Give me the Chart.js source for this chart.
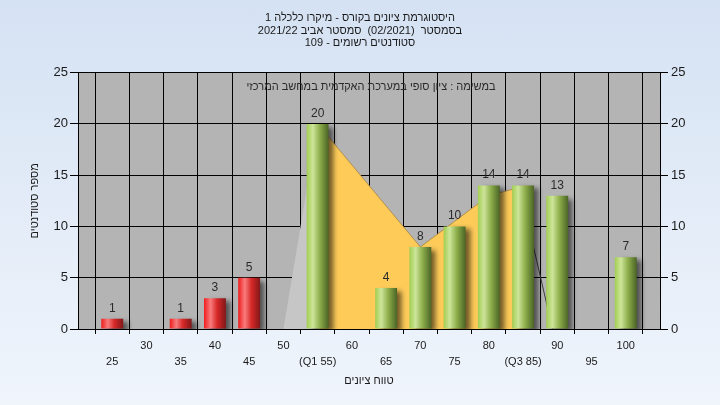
<!DOCTYPE html>
<html>
<head>
<meta charset="utf-8">
<script src="https://cdn.jsdelivr.net/npm/chart.js@4.4.1/dist/chart.umd.min.js"></script>
<style>
  html, body { margin: 0; padding: 0; }
  body { width: 720px; height: 405px; background: linear-gradient(to bottom, #D5E2F3, #F0F5FC); }
  #wrap { width: 720px; height: 405px; position: relative; }
</style>
</head>
<body>
<div id="wrap"><canvas id="c" dir="rtl" width="720" height="405"></canvas></div>
<script>
// ---- data ----
const scoreBins = [25, 30, 35, 40, 45, 50, 55, 60, 65, 70, 75, 80, 85, 90, 95, 100];
const studentCounts = [1, 0, 1, 3, 5, 0, 20, 0, 4, 8, 10, 14, 14, 13, 0, 7];
const tickLabels = ['25', '30', '35', '40', '45', '50', '(Q1 55)', '60', '65', '70', '75', '80', '(Q3 85)', '90', '95', '100'];
const leftTailX = [50, 55];
const leftTailY = [0, 20];
const midRangeX = [55, 70, 75, 80, 85];
const midRangeY = [20, 8, 10.5, 13, 13.9];
const rightTailX = [85, 89.3];
const rightTailY = [12.4, 0];
const passScore = 55;
const titleLines = ['היסטוגרמת ציונים בקורס - מיקרו כלכלה 1', 'בסמסטר  (02/2021)  סמסטר אביב 2021/22', 'סטודנטים רשומים - 109'];
const noteText = 'במשימה : ציון סופי במערכת האקדמית במחשב המרכזי';
const xTitle = 'טווח ציונים';
const yTitle = 'מספר סטודנטים';

const FONT = "'Liberation Sans', 'DejaVu Sans', Arial, sans-serif";
const toXY = (xs, ys) => xs.map((x, i) => ({ x: x, y: ys[i] }));

function barGradient(context) {
  const chart = context.chart;
  const xs = chart.scales.x;
  if (!chart.chartArea || !xs || context.raw == null) return '#cc2222';
  const pass = context.raw.x >= passScore;
  const cx = xs.getPixelForValue(context.raw.x);
  const half = (xs.getPixelForValue(5) - xs.getPixelForValue(0)) * 0.64 / 2;
  const g = chart.ctx.createLinearGradient(cx - half, 0, cx + half, 0);
  if (pass) {
    g.addColorStop(0, '#A2CE50');
    g.addColorStop(0.28, '#CDE59A');
    g.addColorStop(0.6, '#8DAE4A');
    g.addColorStop(1, '#4B6426');
  } else {
    g.addColorStop(0, '#F01C1C');
    g.addColorStop(0.3, '#F87C7C');
    g.addColorStop(0.6, '#D82828');
    g.addColorStop(1, '#801818');
  }
  return g;
}

const plotBg = {
  id: 'plotBg',
  beforeDraw(chart) {
    const { ctx, chartArea: a } = chart;
    ctx.save();
    ctx.fillStyle = '#B4B4B4';
    ctx.fillRect(a.left, a.top, a.right - a.left, a.bottom - a.top);
    ctx.restore();
  }
};

const noteLabel = {
  id: 'noteLabel',
  beforeDatasetsDraw(chart) {
    const { ctx, chartArea: a } = chart;
    ctx.save();
    ctx.font = '11px ' + FONT;
    ctx.fillStyle = '#2A2A2A';
    ctx.textAlign = 'center';
    ctx.textBaseline = 'middle';
    ctx.fillText(noteText, (a.left + a.right) / 2 + 2, a.top + 14);
    ctx.restore();
  }
};

const barShadow = {
  id: 'barShadow',
  beforeDatasetDraw(chart, args) {
    if (args.index !== 0) return;
    const c = chart.ctx;
    c.save();
    c.shadowColor = 'rgba(0,0,0,0.55)';
    c.shadowBlur = 5;
    c.shadowOffsetX = 5;
    c.shadowOffsetY = 3;
  },
  afterDatasetDraw(chart, args) {
    if (args.index !== 0) return;
    chart.ctx.restore();
  }
};

const valueLabels = {
  id: 'valueLabels',
  afterDatasetsDraw(chart) {
    const { ctx } = chart;
    const meta = chart.getDatasetMeta(0);
    ctx.save();
    ctx.font = '12px ' + FONT;
    ctx.fillStyle = '#2A2A2A';
    ctx.textAlign = 'center';
    ctx.textBaseline = 'alphabetic';
    meta.data.forEach((el, i) => {
      const v = studentCounts[i];
      if (!v) return;
      ctx.fillText(String(v), el.x, el.y - 7);
    });
    ctx.restore();
  }
};

new Chart(document.getElementById('c'), {
  type: 'bar',
  data: {
    datasets: [
      {
        type: 'bar',
        data: toXY(scoreBins, studentCounts),
        backgroundColor: barGradient,
        borderWidth: 0,
        barPercentage: 0.64,
        categoryPercentage: 1,
        order: 0,
        yAxisID: 'y'
      },
      {
        type: 'line',
        data: toXY(leftTailX, leftTailY),
        fill: 'origin',
        backgroundColor: '#C6C6C6',
        borderWidth: 0,
        pointRadius: 0,
        order: 3,
        yAxisID: 'y'
      },
      {
        type: 'line',
        data: toXY(midRangeX, midRangeY),
        fill: 'origin',
        backgroundColor: '#FECB59',
        borderColor: '#B0904E',
        borderWidth: 1,
        pointRadius: 0,
        order: 2,
        yAxisID: 'y'
      },
      {
        type: 'line',
        data: toXY(rightTailX, rightTailY),
        fill: false,
        borderColor: '#3C3C3C',
        borderWidth: 1,
        pointRadius: 0,
        order: 1,
        yAxisID: 'y'
      }
    ]
  },
  options: {
    responsive: false,
    animation: false,
    devicePixelRatio: 1,
    layout: { padding: 0 },
    plugins: {
      legend: { display: false },
      tooltip: { enabled: false },
      title: {
        display: true,
        text: titleLines,
        color: '#1A1A1A',
        font: { size: 11, family: FONT, weight: 'normal', lineHeight: 1.14 },
        padding: { top: 12, bottom: 23 }
      }
    },
    scales: {
      x: {
        type: 'linear',
        min: 20,
        max: 105,
        offset: false,
        ticks: {
          stepSize: 5,
          autoSkip: false,
          maxRotation: 0,
          color: '#1A1A1A',
          font: { size: 11, family: FONT, lineHeight: 1.45 },
          padding: 4,
          callback: (v) => {
            const i = scoreBins.indexOf(v);
            if (i < 0) return '';
            return (v / 5) % 2 === 0 ? [tickLabels[i], ''] : ['', tickLabels[i]];
          }
        },
        grid: { color: '#000', lineWidth: 1, tickLength: 5, drawTicks: true },
        border: { color: '#000' },
        title: {
          display: true,
          text: xTitle,
          color: '#1A1A1A',
          font: { size: 11, family: FONT },
          padding: { top: 0, bottom: 17 }
        },
        afterFit: (s) => { s.height = 76; }
      },
      y: {
        position: 'left',
        min: 0,
        max: 25,
        ticks: { stepSize: 5, color: '#1A1A1A', font: { size: 13, family: FONT }, padding: 2 },
        grid: { color: '#000', lineWidth: 1, tickLength: 8 },
        border: { color: '#000' },
        title: {
          display: true,
          text: yTitle,
          color: '#1A1A1A',
          font: { size: 11, family: FONT },
          padding: { top: 28, bottom: 0 }
        },
        afterFit: (s) => { s.width = 78; }
      },
      y2: {
        position: 'right',
        min: 0,
        max: 25,
        ticks: { stepSize: 5, color: '#1A1A1A', font: { size: 13, family: FONT }, padding: 3 },
        grid: { drawOnChartArea: false, color: '#000', tickLength: 8 },
        border: { color: '#000' },
        afterFit: (s) => { s.width = 60; }
      }
    }
  },
  plugins: [plotBg, noteLabel, barShadow, valueLabels]
});
</script>
</body>
</html>
